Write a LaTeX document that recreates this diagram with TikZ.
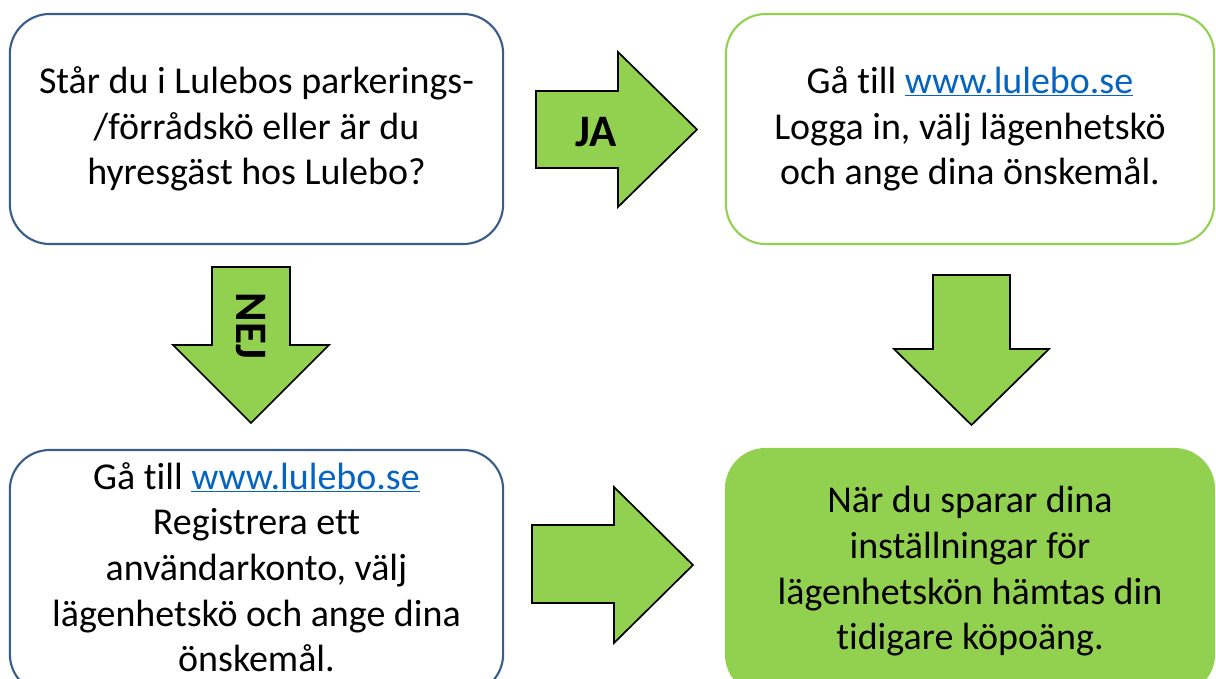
\documentclass[tikz,border=0pt]{standalone}
\usepackage{fontspec}
\setmainfont{Carlito}[Ligatures=NoCommon]
\definecolor{ramblue}{RGB}{56,93,138}
\definecolor{ljusgron}{RGB}{146,208,80}
\definecolor{lankblue}{RGB}{5,99,193}
\newcommand{\lank}[1]{\textcolor{lankblue}{\underline{#1}}}
\begin{document}
\begin{tikzpicture}[x=0.025cm, y=-0.025cm,
        ruta/.style={draw=ramblue, line width=1.5pt, rounded corners=1cm, align=center, inner sep=0pt,
            font=\fontsize{27}{32.5}\selectfont},
        pil/.style={draw=black, fill=ljusgron, line width=1.2pt, line join=miter},
        etikett/.style={font=\fontsize{32}{38}\selectfont\bfseries, inner sep=0pt}]
        \path[use as bounding box, clip] (0,0) rectangle (1216,678);

        \node[ruta, minimum width=12.33cm, minimum height=5.75cm] (fraga) at (256.5,129)
            {Står du i Lulebos parkerings-\\/förrådskö eller är du\\hyresgäst hos Lulebo?};
        \node[ruta, draw=ljusgron, minimum width=12.2cm, minimum height=5.75cm] (ja) at (970,129)
            {Gå till \lank{www.lulebo.se}\\Logga in, välj lägenhetskö\\och ange dina önskemål.};
        \node[ruta, minimum width=12.33cm, minimum height=6.1cm] (nej) at (256.5,572)
            {Gå till \lank{www.lulebo.se}\\Registrera ett\\användarkonto, välj\\lägenhetskö och ange dina\\önskemål.\rule[-7pt]{0pt}{0pt}};
        \node[ruta, draw=ljusgron, fill=ljusgron, minimum width=12.2cm, minimum height=6.125cm] (klar) at (970,571.5)
            {När du sparar dina\\inställningar för\\lägenhetskön hämtas din\\tidigare köpoäng.};

        \draw[pil] (536,91) -- (618,91) -- (618,52) -- (697,129.5) -- (618,207) -- (618,168) -- (536,168) -- cycle;
        \draw[pil] (212,267) -- (290,267) -- (290,345) -- (329,345) -- (251,423) -- (173,345) -- (212,345) -- cycle;
        \draw[pil] (933,275) -- (1010,275) -- (1010,349) -- (1049,349) -- (971.5,425) -- (894,349) -- (933,349) -- cycle;
        \draw[pil] (532,525) -- (614,525) -- (614,487) -- (693,565) -- (614,643) -- (614,603) -- (532,603) -- cycle;

        \node[etikett] (jatext) at (596,132) {JA};
        \node[etikett, rotate=-90] (nejtext) at (251,326) {NEJ};
    \end{tikzpicture}
\end{document}
